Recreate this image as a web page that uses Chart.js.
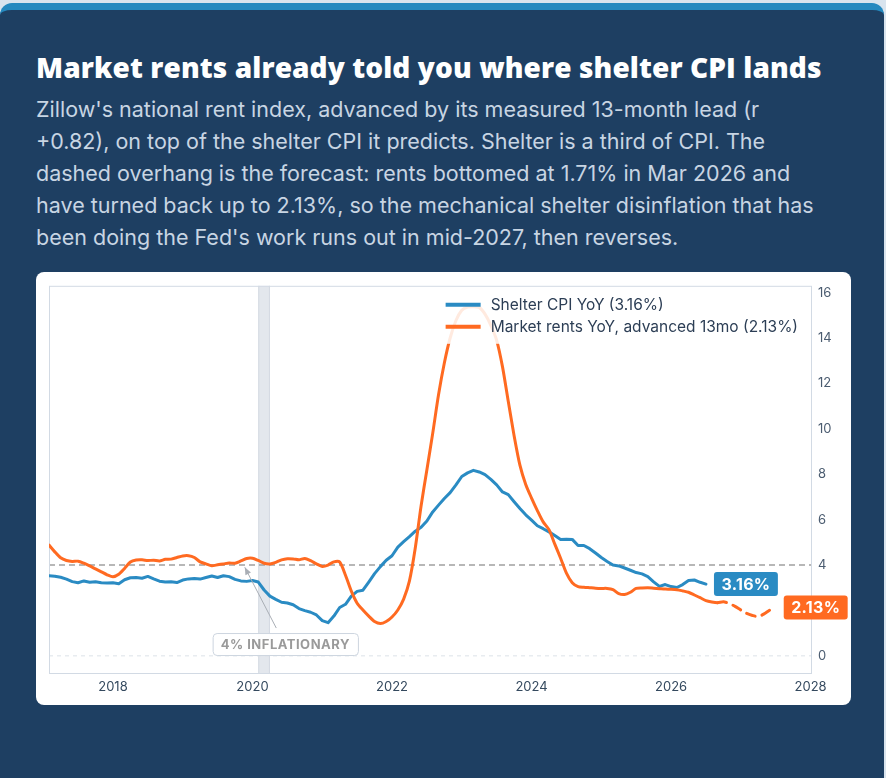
<!DOCTYPE html>
<html>
<head>
<meta charset="utf-8">
<script src="https://cdn.jsdelivr.net/npm/chart.js@4.4.1/dist/chart.umd.min.js"></script>
<style>
  html, body { margin: 0; padding: 0; }
  body { width: 886px; height: 778px; background: #d9e4ee; overflow: hidden; position: relative; font-family: Inter, sans-serif; }
  .card { position: absolute; left: 0; top: 3px; width: 884px; height: 800px; background: #1e3f62; border-top: 7px solid #2589bf; border-radius: 12px; box-sizing: border-box; }
  h1 { position: absolute; left: 36px; top: 49px; margin: 0; font: 800 28px 'Open Sans', sans-serif; line-height: 36px; color: #fff; white-space: nowrap; letter-spacing: 0.1px; }
  .sub { position: absolute; left: 36px; top: 93px; width: 830px; margin: 0; font: 400 21.5px Inter, sans-serif; line-height: 32px; color: #c8d5e3; white-space: nowrap; }
  .panel { position: absolute; left: 36px; top: 272px; width: 815px; height: 433px; background: #fff; border-radius: 8px; }
</style>
</head>
<body>
<div class="card"></div>
<h1>Market rents already told you where shelter CPI lands</h1>
<p class="sub">Zillow's national rent index, advanced by its measured 13-month lead (r<br>+0.82), on top of the shelter CPI it predicts. Shelter is a third of CPI. The<br>dashed overhang is the forecast: rents bottomed at 1.71% in Mar 2026 and<br>have turned back up to 2.13%, so the mechanical shelter disinflation that has<br>been doing the Fed's work runs out in mid-2027, then reverses.</p>
<div class="panel"><canvas id="chart"></canvas></div>

<script>
// Monthly series, first observation Feb 2017
const startYear = 2017;
const startMonth = 2;

// Shelter CPI YoY, % (Feb 2017 - Jul 2026)
const shelterCpi = [
  3.53, 3.51, 3.46, 3.38, 3.27, 3.22, 3.30, 3.24, 3.26, 3.22, 3.21, 3.22,
  3.18, 3.35, 3.44, 3.45, 3.42, 3.50, 3.39, 3.29, 3.25, 3.26, 3.23, 3.34,
  3.39, 3.41, 3.38, 3.45, 3.52, 3.45, 3.53, 3.49, 3.37, 3.30, 3.28, 3.32,
  3.25, 2.90, 2.63, 2.49, 2.36, 2.33, 2.25, 2.08, 1.99, 1.92, 1.80, 1.55,
  1.46, 1.75, 2.13, 2.27, 2.63, 2.84, 2.89, 3.25, 3.62, 3.93, 4.21, 4.41,
  4.79, 5.03, 5.25, 5.49, 5.66, 5.94, 6.34, 6.64, 6.93, 7.19, 7.53, 7.90,
  8.06, 8.17, 8.10, 7.98, 7.77, 7.53, 7.22, 7.10, 6.79, 6.49, 6.21, 5.98,
  5.73, 5.60, 5.46, 5.30, 5.13, 5.14, 5.13, 4.86, 4.86, 4.72, 4.53, 4.33,
  4.16, 4.00, 3.96, 3.87, 3.77, 3.67, 3.61, 3.49, 3.26, 3.06, 3.14, 3.05,
  3.01, 3.14, 3.32, 3.34, 3.24, 3.16
];

// Zillow market rents YoY advanced 13 months, % (Feb 2017 - Jul 2027)
const marketRents = [
  4.88, 4.58, 4.32, 4.20, 4.16, 4.17, 4.08, 3.96, 3.83, 3.70, 3.57, 3.48,
  3.59, 3.85, 4.13, 4.22, 4.23, 4.20, 4.21, 4.18, 4.25, 4.26, 4.33, 4.40,
  4.41, 4.33, 4.14, 4.05, 3.97, 4.01, 4.05, 4.09, 4.08, 4.18, 4.29, 4.30,
  4.20, 4.08, 4.05, 4.12, 4.23, 4.28, 4.27, 4.23, 4.29, 4.19, 4.05, 3.94,
  4.00, 4.14, 4.13, 3.55, 2.85, 2.32, 2.02, 1.75, 1.51, 1.42, 1.51, 1.71,
  2.02, 2.50, 3.30, 4.75, 6.60, 8.20, 9.80, 11.50, 12.90, 14.00, 14.77, 15.22,
  15.36, 15.38, 15.35, 15.05, 14.56, 13.90, 12.74, 11.20, 9.70, 8.40, 7.55, 6.95,
  6.40, 5.90, 5.56, 4.92, 4.30, 3.64, 3.22, 3.05, 3.02, 3.00, 2.98, 2.97,
  2.97, 2.92, 2.74, 2.70, 2.80, 2.97, 2.99, 3.00, 2.98, 2.96, 2.94, 2.93,
  2.91, 2.86, 2.80, 2.68, 2.56, 2.43, 2.37, 2.34, 2.38, 2.31, 2.18, 2.02,
  1.87, 1.78, 1.73, 1.85, 2.02, 2.13
];
const forecastFrom = 115; // index where the advanced rents run past today

const yearTicks = [2018, 2020, 2022, 2024, 2026, 2028];
const valueTicks = [0, 2, 4, 6, 8, 10, 12, 14, 16];
const inflationLine = 4;
const covidBand = [2020 + 1 / 12, 2020 + 3 / 12];
const noteText = '4% INFLATIONARY';
const noteTip = [2019.89, 3.9];
const noteAt = [2020.47, 0.52];

const blue = '#2a8bc3';
const orange = '#ff6a21';

function toPoints(values) {
  return values.map((v, i) => ({ x: startYear + (startMonth - 1 + i) / 12, y: v }));
}
const lastOf = arr => arr[arr.length - 1];

function roundRect(ctx, x, y, w, h, r) {
  ctx.beginPath();
  ctx.moveTo(x + r, y);
  ctx.arcTo(x + w, y, x + w, y + h, r);
  ctx.arcTo(x + w, y + h, x, y + h, r);
  ctx.arcTo(x, y + h, x, y, r);
  ctx.arcTo(x, y, x + w, y, r);
  ctx.closePath();
}

const overlays = {
  id: 'overlays',
  beforeDatasetsDraw(chart) {
    const { ctx, chartArea: a, scales: { x, y } } = chart;
    ctx.save();
    // recession band
    const x0 = x.getPixelForValue(covidBand[0]);
    const x1 = x.getPixelForValue(covidBand[1]);
    ctx.fillStyle = '#e3e7ed';
    ctx.fillRect(x0, a.top, x1 - x0, a.bottom - a.top);
    ctx.strokeStyle = '#d4dae2';
    ctx.lineWidth = 1;
    ctx.beginPath();
    ctx.moveTo(x0 + 0.5, a.top); ctx.lineTo(x0 + 0.5, a.bottom);
    ctx.moveTo(x1 - 0.5, a.top); ctx.lineTo(x1 - 0.5, a.bottom);
    ctx.stroke();

    // zero line
    const y0 = y.getPixelForValue(0);
    ctx.setLineDash([4, 4]);
    ctx.strokeStyle = '#dde2e8';
    ctx.beginPath();
    ctx.moveTo(a.left, y0); ctx.lineTo(a.right, y0);
    ctx.stroke();

    // 4% line
    const y4 = y.getPixelForValue(inflationLine);
    ctx.setLineDash([6, 4]);
    ctx.strokeStyle = '#a0a0a0';
    ctx.lineWidth = 1.5;
    ctx.beginPath();
    ctx.moveTo(a.left, y4); ctx.lineTo(a.right, y4);
    ctx.stroke();

    // plot frame
    ctx.setLineDash([]);
    ctx.lineWidth = 1;
    ctx.strokeStyle = '#d2dae4';
    ctx.strokeRect(a.left + 0.5, a.top + 0.5, a.width - 1, a.height - 1);
    ctx.restore();
  },
  afterDatasetsDraw(chart) {
    const { ctx, chartArea: a, scales: { x, y } } = chart;
    ctx.save();

    // inset legend with a veil over the lines
    ctx.font = '15.5px Inter';
    const sets = chart.data.datasets;
    const textW = Math.max(...sets.map(d => ctx.measureText(d.label).width));
    const right = a.right - 14;
    const textX = right - textW;
    const lineX1 = textX - 10;
    const lineX0 = lineX1 - 35;
    ctx.fillStyle = 'rgba(255,255,255,0.86)';
    ctx.fillRect(lineX0 - 9, a.top + 4, right - lineX0 + 18, 54);
    sets.forEach((d, k) => {
      const ly = a.top + 19 + k * 22;
      ctx.strokeStyle = d.borderColor;
      ctx.lineWidth = 4;
      ctx.beginPath();
      ctx.moveTo(lineX0, ly); ctx.lineTo(lineX1, ly);
      ctx.stroke();
      ctx.fillStyle = '#2c3e55';
      ctx.textBaseline = 'middle';
      ctx.textAlign = 'left';
      ctx.fillText(d.label, textX, ly + 1);
    });

    // 4% note with arrow
    const tx = x.getPixelForValue(noteTip[0]);
    const ty = y.getPixelForValue(noteTip[1]);
    const cx = x.getPixelForValue(noteAt[0]);
    const cy = y.getPixelForValue(noteAt[1]);
    ctx.font = '700 13px Inter';
    if ('letterSpacing' in ctx) ctx.letterSpacing = '0.5px';
    const nw = ctx.measureText(noteText).width + 16;
    const nh = 22;
    const sx = cx - 9, sy = cy - nh / 2 - 5;
    ctx.strokeStyle = '#a9aeb5';
    ctx.lineWidth = 1;
    ctx.beginPath();
    ctx.moveTo(sx, sy); ctx.lineTo(tx, ty);
    ctx.stroke();
    const ang = Math.atan2(ty - sy, tx - sx);
    ctx.fillStyle = '#a9aeb5';
    ctx.beginPath();
    ctx.moveTo(tx, ty);
    ctx.lineTo(tx - 8 * Math.cos(ang - 0.4), ty - 8 * Math.sin(ang - 0.4));
    ctx.lineTo(tx - 8 * Math.cos(ang + 0.4), ty - 8 * Math.sin(ang + 0.4));
    ctx.closePath();
    ctx.fill();
    roundRect(ctx, cx - nw / 2 + 0.5, cy - nh / 2 + 0.5, nw, nh, 4);
    ctx.fillStyle = 'rgba(255,255,255,0.95)';
    ctx.fill();
    ctx.strokeStyle = '#cdd5df';
    ctx.stroke();
    ctx.fillStyle = '#9a9a9a';
    ctx.textAlign = 'center';
    ctx.textBaseline = 'middle';
    ctx.fillText(noteText, cx, cy + 1);
    ctx.restore();
  },
  afterDraw(chart) {
    const { ctx } = chart;
    ctx.save();
    ctx.font = '700 16px Inter';
    if ('letterSpacing' in ctx) ctx.letterSpacing = '0.3px';
    chart.data.datasets.forEach((d, k) => {
      const pts = chart.getDatasetMeta(k).data;
      const end = pts[pts.length - 1];
      const text = lastOf(d.data).y.toFixed(2) + '%';
      const w = ctx.measureText(text).width + 15;
      const h = 24;
      roundRect(ctx, end.x + 8, end.y - h / 2, w, h, 3);
      ctx.fillStyle = d.borderColor;
      ctx.fill();
      ctx.fillStyle = '#fff';
      ctx.textAlign = 'center';
      ctx.textBaseline = 'middle';
      ctx.fillText(text, end.x + 8 + w / 2, end.y + 1);
    });
    ctx.restore();
  }
};

new Chart(document.getElementById('chart'), {
  type: 'line',
  data: {
    datasets: [
      {
        label: 'Shelter CPI YoY (' + lastOf(shelterCpi).toFixed(2) + '%)',
        data: toPoints(shelterCpi),
        borderColor: blue,
        borderWidth: 3,
        tension: 0,
        order: 1
      },
      {
        label: 'Market rents YoY, advanced 13mo (' + lastOf(marketRents).toFixed(2) + '%)',
        data: toPoints(marketRents),
        borderColor: orange,
        borderWidth: 3,
        tension: 0.25,
        order: 0,
        segment: {
          borderDash: c => c.p0DataIndex >= forecastFrom ? [9, 7] : undefined
        }
      }
    ]
  },
  options: {
    responsive: true,
    maintainAspectRatio: false,
    animation: false,
    parsing: false,
    layout: { padding: { left: 13, top: 13, right: 0, bottom: 0 } },
    elements: { point: { radius: 0 }, line: { borderCapStyle: 'round', borderJoinStyle: 'round' } },
    plugins: {
      legend: { display: false },
      tooltip: { enabled: false }
    },
    scales: {
      x: {
        type: 'linear',
        min: startYear + (startMonth - 1) / 12,
        max: 2028.02,
        grid: { display: false, drawTicks: false },
        border: { display: false },
        afterBuildTicks: s => { s.ticks = yearTicks.map(v => ({ value: v })); },
        afterFit: s => { s.height = 31; },
        ticks: {
          autoSkip: false,
          maxRotation: 0,
          padding: 5,
          color: '#34495e',
          font: { family: 'Inter', size: 13 },
          callback: v => String(v)
        }
      },
      y: {
        position: 'right',
        min: -0.8,
        max: 16.3,
        grid: { display: false, drawTicks: false },
        border: { display: false },
        afterBuildTicks: s => { s.ticks = valueTicks.map(v => ({ value: v })); },
        afterFit: s => { s.width = 39; },
        ticks: {
          padding: 6,
          color: '#4b5c70',
          font: { family: 'Inter', size: 13 },
          callback: v => String(v)
        }
      }
    }
  },
  plugins: [overlays]
});
</script>
</body>
</html>
